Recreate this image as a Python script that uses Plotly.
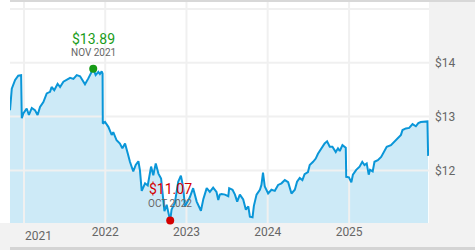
import plotly.graph_objects as go

# ---- data ----
dates = [
    "2020-10-30", "2020-11-07", "2020-11-22", "2020-12-06", "2020-12-19", "2020-12-22",
    "2020-12-29", "2021-01-13", "2021-01-23", "2021-02-05", "2021-02-19", "2021-03-03",
    "2021-03-14", "2021-03-29", "2021-04-13", "2021-04-28", "2021-05-05", "2021-05-17",
    "2021-06-01", "2021-06-12", "2021-06-27", "2021-07-12", "2021-07-27", "2021-08-11",
    "2021-08-26", "2021-09-10", "2021-10-02", "2021-10-17", "2021-11-04", "2021-11-08",
    "2021-11-19", "2021-12-01", "2021-12-08", "2021-12-16", "2021-12-20", "2021-12-21",
    "2021-12-31", "2022-01-15", "2022-01-30", "2022-02-06", "2022-02-21", "2022-03-08",
    "2022-03-19", "2022-03-31", "2022-04-12", "2022-04-22", "2022-05-07", "2022-05-18",
    "2022-05-30", "2022-06-06", "2022-06-14", "2022-06-29", "2022-07-11", "2022-07-26",
    "2022-08-05", "2022-08-16", "2022-08-28", "2022-09-09", "2022-09-24", "2022-10-04",
    "2022-10-12", "2022-10-20", "2022-10-26", "2022-11-10", "2022-11-25", "2022-12-07",
    "2022-12-17", "2022-12-25", "2023-01-06", "2023-01-16", "2023-01-31", "2023-02-16",
    "2023-03-07", "2023-03-18", "2023-04-02", "2023-04-16", "2023-05-01", "2023-05-16",
    "2023-05-24", "2023-05-31", "2023-06-08", "2023-06-23", "2023-07-08", "2023-07-12",
    "2023-07-27", "2023-08-07", "2023-08-17", "2023-08-29", "2023-09-13", "2023-09-25",
    "2023-10-06", "2023-10-13", "2023-10-25", "2023-10-31", "2023-11-12", "2023-11-27",
    "2023-12-04", "2023-12-11", "2023-12-19", "2024-01-03", "2024-01-18", "2024-02-02",
    "2024-02-17", "2024-03-03", "2024-03-18", "2024-04-02", "2024-04-17", "2024-05-02",
    "2024-05-12", "2024-05-24", "2024-06-05", "2024-06-15", "2024-06-30", "2024-07-08",
    "2024-07-23", "2024-08-04", "2024-08-14", "2024-08-29", "2024-09-13", "2024-09-24",
    "2024-10-06", "2024-10-18", "2024-11-02", "2024-11-12", "2024-11-20", "2024-12-02",
    "2024-12-12", "2024-12-17", "2024-12-19", "2024-12-31", "2025-01-11", "2025-01-18",
    "2025-02-02", "2025-02-17", "2025-03-01", "2025-03-11", "2025-03-21", "2025-03-30",
    "2025-04-05", "2025-04-17", "2025-04-25", "2025-05-10", "2025-05-25", "2025-06-09",
    "2025-06-19", "2025-07-08", "2025-07-23", "2025-08-07", "2025-08-22", "2025-08-29",
    "2025-09-13", "2025-09-28", "2025-10-13", "2025-10-28", "2025-11-08", "2025-11-19",
    "2025-12-04", "2025-12-14", "2025-12-19", "2025-12-22",
]
nav = [
    13.12, 13.52, 13.68, 13.76, 13.77, 12.97,
    13.06, 13.15, 13.03, 13.16, 13.12, 13.03,
    13.18, 13.27, 13.43, 13.46, 13.55, 13.49,
    13.61, 13.55, 13.65, 13.68, 13.72, 13.70,
    13.77, 13.75, 13.60, 13.71, 13.86, 13.89,
    13.77, 13.83, 13.79, 13.84, 13.80, 12.87,
    12.90, 12.81, 12.66, 12.71, 12.56, 12.50,
    12.41, 12.50, 12.32, 12.16, 11.98, 12.10,
    12.17, 12.00, 11.62, 11.76, 11.72, 12.07,
    11.91, 12.13, 11.94, 11.85, 11.24, 11.36,
    11.21, 11.07, 11.27, 11.40, 11.79, 11.90,
    11.70, 11.33, 11.42, 11.50, 11.67, 11.42,
    11.25, 11.47, 11.67, 11.60, 11.68, 11.60,
    11.45, 11.55, 11.56, 11.55, 11.52, 11.67,
    11.64, 11.55, 11.42, 11.55, 11.46, 11.27,
    11.33, 11.14, 11.13, 11.34, 11.55, 11.64,
    11.73, 11.96, 11.70, 11.57, 11.64, 11.62,
    11.73, 11.76, 11.82, 11.78, 11.57, 11.64,
    11.79, 11.86, 11.82, 11.93, 11.97, 12.10,
    12.16, 12.22, 12.31, 12.41, 12.50, 12.54,
    12.44, 12.44, 12.34, 12.41, 12.36, 12.47,
    12.43, 12.42, 11.88, 11.87, 11.78, 11.92,
    12.01, 12.07, 12.16, 12.10, 12.13, 11.92,
    12.01, 11.98, 12.16, 12.19, 12.25, 12.35,
    12.44, 12.47, 12.53, 12.60, 12.66, 12.75,
    12.78, 12.79, 12.86, 12.82, 12.88, 12.90,
    12.91, 12.92, 12.91, 12.27,
]

high_date, high_value, high_label = "2021-11-08", 13.89, "NOV 2021"
low_date, low_value, low_label = "2022-10-20", 11.07, "OCT 2022"

x_ticks = ["2021-01-01", "2022-01-01", "2023-01-01", "2024-01-01", "2025-01-01"]
x_tick_labels = ["2021", "2022", "2023", "2024", "2025"]
y_ticks = [12, 13, 14, 15]
y_tick_labels = ["$12", "$13", "$14", ""]

x_range = ["2020-10-30", "2025-12-26"]
y_range = [11.022, 15.13]

LINE = "#0a96d8"
FILL = "#cdeaf7"
GRID = "#f0f0f0"
PANEL = "#f2f2f2"
FONT = "Roboto"

fig = go.Figure()

# area fill
fig.add_trace(go.Scatter(x=dates, y=nav, mode="lines", line=dict(width=0, color=FILL),
                         fill="tozeroy", fillcolor=FILL, hoverinfo="skip", showlegend=False))

# gridlines drawn above the fill (derived from the tick arrays)
gx, gy = [], []
for t in x_ticks:
    gx += [t, t, None]
    gy += [y_range[0], y_range[1], None]
for v in y_ticks:
    gx += [x_range[0], x_range[1], None]
    gy += [v, v, None]
fig.add_trace(go.Scatter(x=gx, y=gy, mode="lines", line=dict(width=2, color=GRID),
                         hoverinfo="skip", showlegend=False))

# price line
fig.add_trace(go.Scatter(x=dates, y=nav, mode="lines", line=dict(width=2, color=LINE),
                         showlegend=False))

# high / low markers
fig.add_trace(go.Scatter(x=[high_date], y=[high_value], mode="markers",
                         marker=dict(size=8, color="#169b16"), cliponaxis=False, showlegend=False))
fig.add_trace(go.Scatter(x=[low_date], y=[low_value], mode="markers",
                         marker=dict(size=8, color="#d40000"), cliponaxis=False, showlegend=False))

annotations = [
    dict(x=high_date, y=high_value, text=f"${high_value:.2f}", showarrow=False, yshift=30,
         font=dict(family=FONT, size=14, color="#1a9c1a")),
    dict(x=high_date, y=high_value, text=high_label, showarrow=False, yshift=16,
         font=dict(family=FONT, size=10, color="#666666")),
    dict(x=low_date, y=low_value, text=f"${low_value:.2f}", showarrow=False, yshift=31,
         font=dict(family=FONT, size=14, color="#d40000")),
    dict(x=low_date, y=low_value, text=low_label, showarrow=False, yshift=17,
         font=dict(family=FONT, size=10, color="#666666")),
    # first year label is nudged right in the reference
    dict(x=x_ticks[0], y=0, yref="paper", yanchor="top", text=x_tick_labels[0], showarrow=False,
         xshift=14, yshift=-4, font=dict(family=FONT, size=12, color="#666666")),
]

shapes = [
    dict(type="rect", xref="paper", yref="paper", x0=1, x1=1.15, y0=-0.2, y1=1.0,
         fillcolor=PANEL, line=dict(width=0), layer="below"),
    dict(type="rect", xref="paper", yref="paper", x0=-0.05, x1=1.15, y0=-0.2, y1=0,
         fillcolor=PANEL, line=dict(width=0), layer="below"),
    dict(type="rect", xref="paper", yref="paper", x0=0, x1=1.15, y0=1.0, y1=1.05,
         fillcolor="#d8d8d8", line=dict(width=0), layer="below"),
    dict(type="rect", xref="paper", yref="paper", x0=0, x1=1.15, y0=-0.2, y1=-0.1086,
         fillcolor="#d4d4d4", line=dict(width=0), layer="below"),
]

fig.update_layout(
    width=475, height=250,
    margin=dict(l=10, r=46, t=2, b=27),
    paper_bgcolor="white", plot_bgcolor="white",
    font=dict(family=FONT, size=12, color="#666666"),
    showlegend=False,
    hovermode=False,
    annotations=annotations,
    shapes=shapes,
    xaxis=dict(range=x_range, type="date", showgrid=False, zeroline=False, showline=False,
               tickvals=x_ticks[1:], ticktext=x_tick_labels[1:], ticks="",
               tickfont=dict(family=FONT, size=12, color="#666666")),
    yaxis=dict(range=y_range, side="right", showgrid=False, zeroline=False, showline=False,
               tickvals=y_ticks, ticktext=y_tick_labels, ticks="", ticklabelstandoff=5,
               tickfont=dict(family=FONT, size=12, color="#666666")),
)

fig.write_html("out.html")
